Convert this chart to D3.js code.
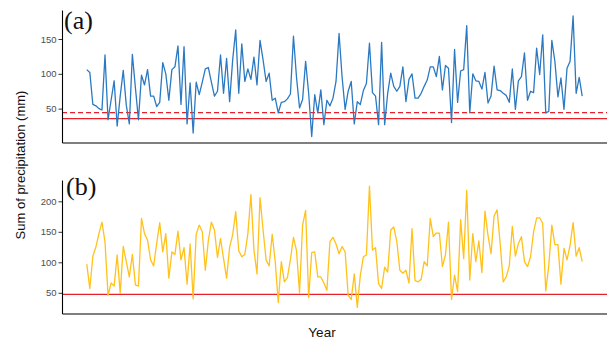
<!DOCTYPE html>
<html>
<head>
<meta charset="utf-8">
<script src="https://cdn.jsdelivr.net/npm/d3@7"></script>
<style>
  body { margin: 0; background: #fff; }
  svg text { font-family: 'Liberation Sans', Arial, Helvetica, sans-serif; }
</style>
</head>
<body>
<div id="chart"></div>
<script>
// yearly sums, one value per year
const precipA = [
  106, 102, 56, 54, 50, 48, 127, 34, 62, 90,
  25, 68, 105, 55, 28, 128, 80, 34, 98, 84,
  106, 68, 68, 53, 59, 116, 100, 62, 106, 110,
  140, 56, 139, 28, 87, 15, 88, 70, 88, 107,
  109, 88, 68, 75, 127, 72, 122, 60, 120, 163,
  72, 143, 89, 107, 92, 124, 84, 148, 120, 89,
  101, 62, 65, 44, 59, 60, 64, 71, 154, 95,
  51, 63, 118, 72, 10, 70, 44, 77, 27, 62,
  54, 65, 89, 158, 95, 49, 75, 89, 28, 60,
  56, 76, 86, 144, 73, 68, 27, 145, 27, 72,
  101, 82, 75, 82, 110, 60, 92, 100, 65, 65,
  72, 82, 91, 110, 110, 96, 125, 77, 112, 108,
  30, 135, 59, 104, 106, 169, 44, 100, 90, 89,
  78, 102, 58, 68, 111, 77, 76, 72, 69, 59,
  107, 49, 90, 96, 130, 62, 75, 73, 137, 99,
  156, 44, 46, 148, 118, 67, 94, 49, 108, 118,
  183, 72, 95, 68
];

const precipB = [
  97, 57, 110, 125, 147, 166, 133, 46, 66, 61,
  112, 49, 126, 101, 76, 113, 63, 61, 172, 147,
  136, 104, 94, 131, 165, 117, 147, 74, 117, 113,
  151, 104, 124, 64, 130, 40, 146, 161, 150, 87,
  136, 166, 153, 108, 139, 106, 74, 125, 145, 183,
  119, 109, 113, 147, 211, 120, 81, 206, 153, 104,
  94, 146, 101, 34, 101, 68, 75, 105, 141, 119,
  50, 161, 185, 42, 116, 117, 76, 76, 66, 54,
  134, 141, 130, 114, 126, 117, 46, 39, 81, 26,
  79, 109, 112, 225, 120, 124, 65, 57, 92, 84,
  153, 158, 134, 87, 82, 87, 66, 155, 70, 68,
  72, 101, 94, 172, 142, 148, 148, 93, 112, 166,
  39, 79, 52, 170, 106, 218, 71, 147, 101, 135,
  83, 184, 144, 114, 176, 186, 131, 68, 76, 94,
  159, 110, 131, 142, 101, 93, 109, 150, 173, 173,
  164, 53, 95, 161, 129, 129, 64, 123, 104, 128,
  165, 110, 124, 101
];

const yTicksA = [50, 100, 150];
const yTicksB = [50, 100, 150, 200];
const thresholdA = 35.7;       // solid red
const thresholdDashedA = 44.3; // dashed red
const thresholdB = 47.4;
const panelLabels = ['(a)', '(b)'];

const width = 607;
const height = 343;
const left = 62;
const right = 607;

const panels = [
  { values: precipA, ticks: yTicksA, color: '#2b79c2', top: 10, bottom: 142.5, labelY: 29, labelX: 64,
    lines: [{ v: thresholdA, dash: null }, { v: thresholdDashedA, dash: '5,3' }] },
  { values: precipB, ticks: yTicksB, color: '#ffc11a', top: 180, bottom: 313.5, labelY: 195, labelX: 66,
    lines: [{ v: thresholdB, dash: null }] },
];

const svg = d3.select('#chart').append('svg')
  .attr('width', width)
  .attr('height', height);

// ggplot-like 5% expansion on both axes
const expand = ([lo, hi]) => {
  const pad = (hi - lo) * 0.05;
  return [lo - pad, hi + pad];
};

const n = precipA.length;
const x = d3.scaleLinear()
  .domain(expand([0, n - 1]))
  .range([left, right]);

panels.forEach((p, k) => {
  const y = d3.scaleLinear()
    .domain(expand(d3.extent(p.values)))
    .range([p.bottom, p.top]);

  const g = svg.append('g');

  // threshold lines
  g.selectAll('line.threshold')
    .data(p.lines)
    .enter().append('line')
      .attr('class', 'threshold')
      .attr('x1', left)
      .attr('x2', right)
      .attr('y1', d => y(d.v))
      .attr('y2', d => y(d.v))
      .style('stroke', '#e8202a')
      .style('stroke-width', 1.2)
      .style('stroke-dasharray', d => d.dash);

  const line = d3.line()
    .x((d, i) => x(i))
    .y(d => y(d));

  g.append('path')
    .datum(p.values)
    .attr('d', line)
    .style('fill', 'none')
    .style('stroke', p.color)
    .style('stroke-width', 1.3)
    .style('stroke-linejoin', 'round');

  const yAxis = g.append('g')
    .attr('transform', `translate(${left},0)`)
    .call(d3.axisLeft(y).tickValues(p.ticks).tickSize(3.5).tickSizeOuter(0).tickPadding(2));

  yAxis.select('.domain').style('stroke', '#000').style('stroke-width', 1.1);
  yAxis.selectAll('.tick line').style('stroke', '#333');
  yAxis.selectAll('.tick text')
    .style('fill', '#4d4d4d')
    .style('font-size', '9.5px');

  const xAxis = g.append('g')
    .attr('transform', `translate(0,${p.bottom})`)
    .call(d3.axisBottom(x).tickValues([]).tickSizeOuter(0));
  xAxis.select('.domain').style('stroke', '#000').style('stroke-width', 1.1);

  g.append('text')
    .attr('x', p.labelX)
    .attr('y', p.labelY)
    .style('font-family', "'Liberation Serif', 'Times New Roman', serif")
    .style('font-size', '26px')
    .style('fill', '#111')
    .text(panelLabels[k]);
});

svg.append('text')
  .attr('transform', 'translate(25,165) rotate(-90)')
  .attr('text-anchor', 'middle')
  .style('font-size', '13px')
  .style('fill', '#111')
  .text('Sum of precipitation (mm)');

svg.append('text')
  .attr('x', 322)
  .attr('y', 337)
  .attr('text-anchor', 'middle')
  .style('font-size', '13.5px')
  .style('fill', '#111')
  .text('Year');
</script>
</body>
</html>
